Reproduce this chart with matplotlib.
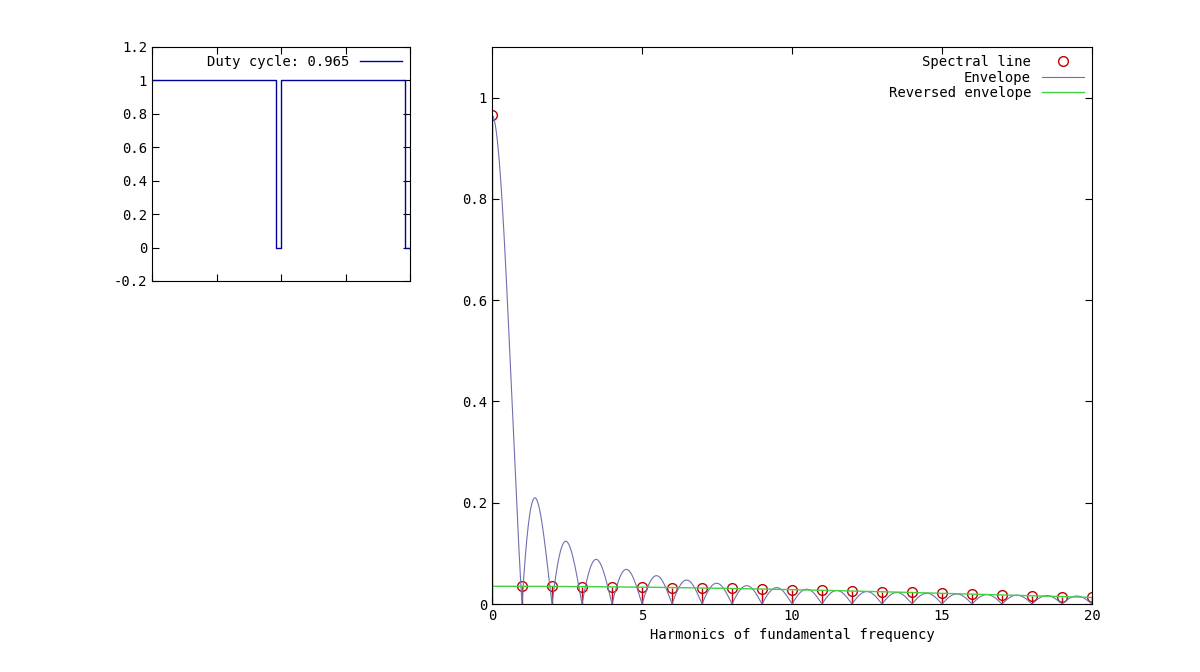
import numpy as np
import matplotlib
matplotlib.use("Agg")
import matplotlib.pyplot as plt

plt.rcParams['font.family'] = ['DejaVu Sans Mono']
plt.rcParams['font.size'] = 10

duty = 0.965
harmonics = list(range(21))
spectral = [0.965, 0.0349, 0.0341, 0.0329, 0.0312, 0.0292, 0.0269, 0.0243, 0.0216,
            0.0187, 0.0157, 0.0127, 0.0098, 0.0070, 0.0043, 0.0019, 0.0, 0.0, 0.0, 0.0, 0.0]
# values read as |sin(pi n d)|/(pi n)
spectral = [0.965] + [abs(np.sin(np.pi*n*duty))/(np.pi*n) for n in harmonics[1:]]

# waveform: time breakpoints and levels
wave_t = [0, 0.965, 0.965, 1.0, 1.0, 1.965, 1.965, 2.0]
wave_y = [1, 1, 0, 0, 1, 1, 0, 0]

fig = plt.figure(figsize=(12, 6.72), dpi=100)
W, H = 1200, 672
def ax_at(x0, y0, x1, y1):
    return fig.add_axes([x0/W, 1-y1/H, (x1-x0)/W, (y1-y0)/H])

def gp_style(ax):
    ax.tick_params(direction='in', top=True, right=True, length=5, colors='black')
    for s in ax.spines.values():
        s.set_linewidth(0.8)

a1 = ax_at(152, 47, 410, 281)
a1.plot(wave_t, wave_y, color='#0000a0', lw=1, label='Duty cycle: 0.965')
a1.set_xlim(0, 2)
a1.set_ylim(-0.2, 1.2)
a1.set_xticks([0, 0.5, 1, 1.5, 2])
a1.set_xticklabels([])
a1.set_yticks(np.arange(-0.2, 1.21, 0.2))
a1.set_yticklabels(['-0.2', '0', '0.2', '0.4', '0.6', '0.8', '1', '1.2'])
gp_style(a1)
leg = a1.legend(loc='upper right', frameon=False, handlelength=3, borderaxespad=0.2,
                markerfirst=False, fontsize=10)

a2 = ax_at(492, 47, 1092, 604)
x = np.linspace(0.0001, 20, 4000)
env = duty*np.abs(np.sinc(x))
renv = np.abs(np.sin(np.pi*x*(1-duty)))/(np.pi*x)
a2.vlines(harmonics, 0, spectral, color='#c00000', lw=1)
a2.plot(harmonics, spectral, 'o', mfc='none', mec='#c00000', ms=7, label='Spectral line')
a2.plot(x, env, color='#7070b0', lw=0.8, label='Envelope')
a2.plot(x, renv, color='#40d040', lw=1, label='Reversed envelope')
a2.set_xlim(0, 20)
a2.set_ylim(0, 1.1)
a2.set_xticks([0, 5, 10, 15, 20])
a2.set_yticks([0, 0.2, 0.4, 0.6, 0.8, 1])
a2.set_yticklabels(['0', '0.2', '0.4', '0.6', '0.8', '1'])
a2.set_xlabel('Harmonics of fundamental frequency')
gp_style(a2)
a2.legend(loc='upper right', frameon=False, handlelength=3, borderaxespad=0.2,
          markerfirst=False, labelspacing=0.1, fontsize=10)

fig.savefig('out.png', dpi=100, facecolor='white')
